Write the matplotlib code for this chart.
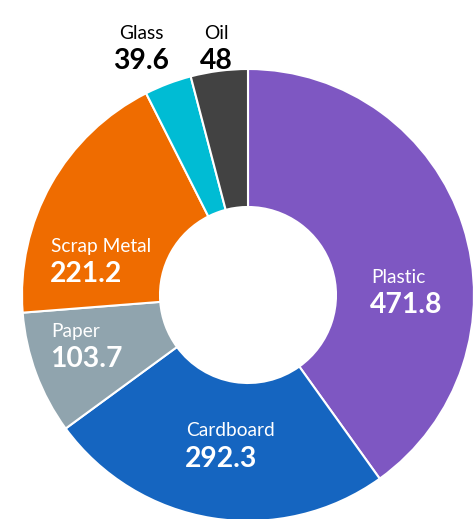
import matplotlib.pyplot as plt

# data, clockwise from the top
labels = ["Plastic", "Cardboard", "Paper", "Scrap Metal", "Glass", "Oil"]
values = [471.8, 292.3, 103.7, 221.2, 39.6, 48]
colors = ["#7E57C2", "#1565C0", "#90A4AE", "#EF6C00", "#00BCD4", "#424242"]

# label anchors in pixels (x from left, y from top), alignment, text colour
label_pos = [(371, 277, "left", "white"),
             (186, 431, "left", "white"),
             (51, 331, "left", "white"),
             (51, 246, "left", "white"),
             (141, 33, "center", "black"),
             (216, 33, "center", "black")]

W, H = 477, 519
fig = plt.figure(figsize=(W / 100, H / 100), dpi=100)
ax = fig.add_axes([0, 0, 1, 1])

cx, cy, r_out, r_in = 248, H - 295, 226, 88
ax.pie(values, colors=colors, startangle=90, counterclock=False,
       center=(cx, cy), radius=r_out, frame=True,
       wedgeprops=dict(width=r_out - r_in, edgecolor="white", linewidth=1.5))
ax.set_xlim(0, W)
ax.set_ylim(0, H)
ax.set_aspect("equal")
ax.axis("off")

for name, val, (x, y, ha, col) in zip(labels, values, label_pos):
    ax.text(x, H - y, name, ha=ha, va="center", color=col,
            fontsize=13.8, family="Lato")
    ax.text(x - 1 if ha == "left" else x, H - y - 28, "{0:g}".format(val),
            ha=ha, va="center", color=col, fontsize=20.3,
            family="Lato", fontweight="bold")

fig.savefig("out.png", dpi=100)
